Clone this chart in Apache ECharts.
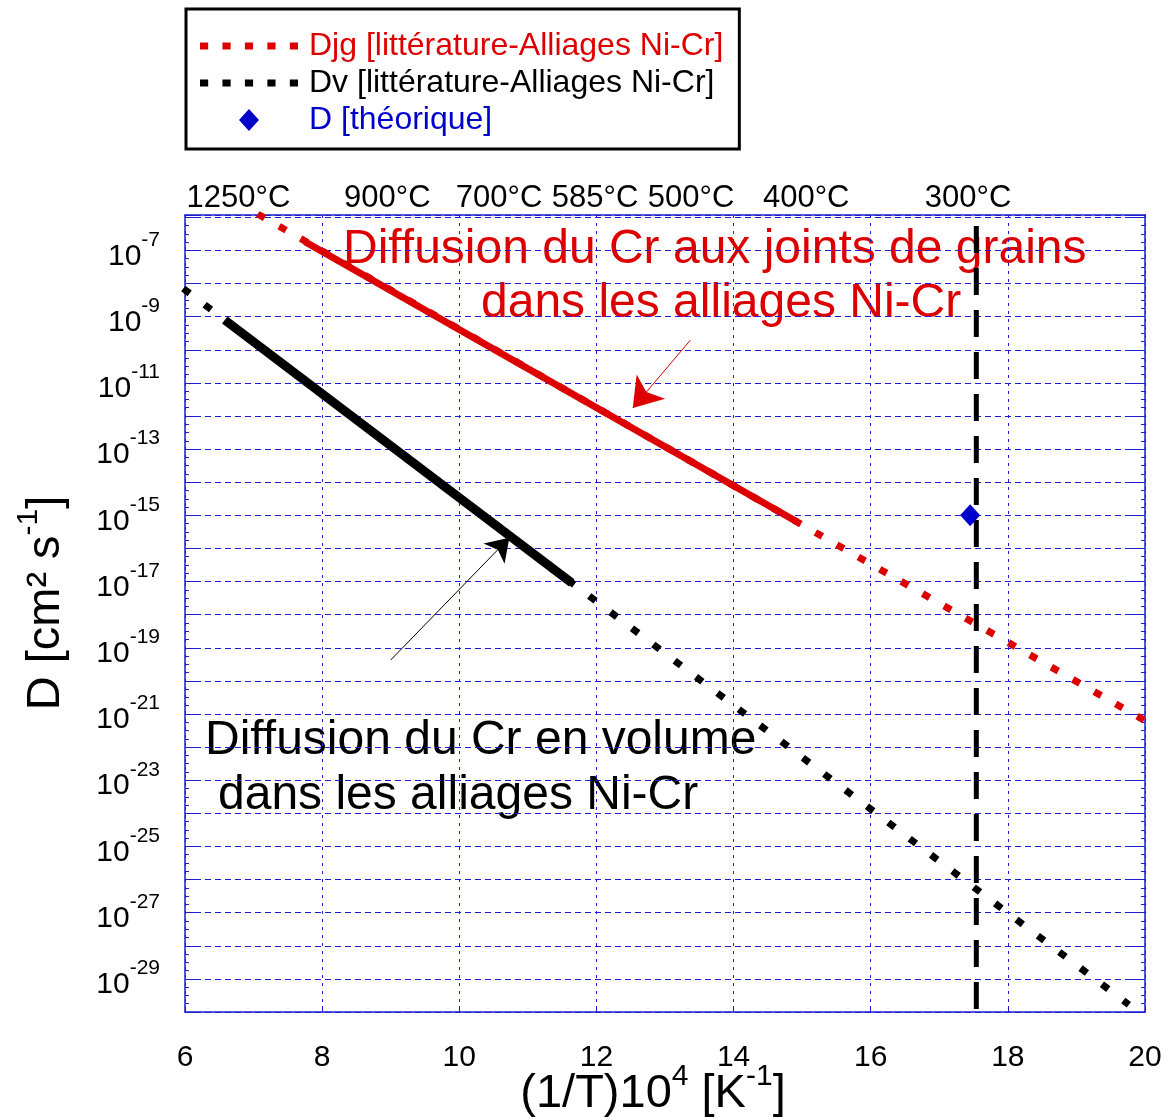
<!DOCTYPE html>
<html>
<head>
<meta charset="utf-8">
<script src="https://cdn.jsdelivr.net/npm/echarts@6/dist/echarts.min.js"></script>
<style>
  html, body { margin: 0; padding: 0; background: #fff; }
  #main { width: 1173px; height: 1117px; }
</style>
</head>
<body>
<div id="main"></div>
<script>
// x : (1/T)10^4 [K-1]   y : log10(D) , D en cm2 s-1
var djgDotX = [7.06, 20.0];          // Djg, trait pointille
var djgDotLogD = [-5.90, -21.2];
var djgDenseX = [7.75, 14.93];       // Djg, partie dense (points serres)
var djgDenseLogD = [-6.74, -15.2];
var dvDotX = [5.975, 19.765];        // Dv, trait pointille
var dvDotLogD = [-8.15, -29.78];
var dvDenseX = [6.58, 11.64];        // Dv, partie dense
var dvDenseLogD = [-9.1, -17.04];
var theoX = [17.45];                 // D theorique
var theoLogD = [-15];
var limitX = [17.54, 17.54];         // trait vertical a 300°C
var limitLogD = [-6.26, -30];
var arrowJgX = [13.37, 12.53];       // fleche rouge (depart, pointe)
var arrowJgLogD = [-9.71, -11.76];
var arrowVX = [9.0, 10.73];          // fleche noire
var arrowVLogD = [-19.37, -15.68];
var tempLabels = ['1250°C', '900°C', '700°C', '585°C', '500°C', '400°C', '300°C'];
var tempLabelX = [6.78, 8.95, 10.58, 11.98, 13.38, 15.06, 17.42];

var FONT = '"Liberation Sans", Arial, sans-serif';
var RED = '#dd0000';
var BLUE = '#1c1cd0';
var NAME_JG = 'Djg [littérature-Alliages Ni-Cr]';
var NAME_V = 'Dv [littérature-Alliages Ni-Cr]';
var NAME_TH = 'D [théorique]';
// icones de legende : pointilles et losange
var ICON_DOTS = 'path://M0,0h8v7h-8zM22,0h8v7h-8zM44,0h8v7h-8zM66,0h8v7h-8zM88,0h8v7h-8z';
var ICON_DIAMOND = 'path://M10,0L20,11L10,22L0,11Z';

function zip(xs, ys) {
  return xs.map(function (x, i) { return [x, ys[i]]; });
}

var chart = echarts.init(document.getElementById('main'), null, { renderer: 'canvas' });

var yLabel = {
  margin: 25,
  color: '#000',
  formatter: function (v) {
    var n = Math.round(v);
    if (Math.abs(v - n) > 1e-6 || n % 2 === 0) return '';
    return '{b|10}{s|' + n + '}';
  },
  rich: {
    b: { fontSize: 30, lineHeight: 42, verticalAlign: 'bottom', fontFamily: FONT, color: '#000' },
    s: { fontSize: 21, lineHeight: 38, verticalAlign: 'top', fontFamily: FONT, color: '#000' }
  }
};

var option = {
  animation: false,
  backgroundColor: '#fff',
  textStyle: { fontFamily: FONT },
  grid: { left: 185, right: 28, top: 215, bottom: 105 },
  legend: {
    left: 186, top: 9,
    orient: 'vertical',
    selectedMode: false,
    symbolKeepAspect: true,
    padding: [21, 16, 13, 14],
    borderColor: '#000',
    borderWidth: 3,
    itemWidth: 98,
    itemHeight: 22,
    itemGap: 5,
    textStyle: { fontSize: 32, fontFamily: FONT, padding: [0, 0, 0, 6] },
    data: [
      { name: NAME_JG, icon: ICON_DOTS, textStyle: { color: RED } },
      { name: NAME_V, icon: ICON_DOTS, textStyle: { color: '#000' } },
      { name: NAME_TH, icon: ICON_DIAMOND, textStyle: { color: '#0000cc' } }
    ]
  },
  xAxis: [{
    type: 'value', min: 6, max: 20, interval: 2, position: 'bottom',
    axisLine: { onZero: false, lineStyle: { color: BLUE, width: 1.5 } },
    axisTick: { inside: true, length: 6, lineStyle: { color: BLUE } },
    axisLabel: { fontSize: 30, color: '#000', margin: 31, fontFamily: FONT },
    splitLine: { lineStyle: { color: BLUE, type: [3, 5] } }
  }, {
    type: 'value', min: 6, max: 20, position: 'top',
    axisLine: { onZero: false, lineStyle: { color: BLUE, width: 1.5 } },
    axisTick: { show: false },
    splitLine: { show: false },
    axisLabel: {
      customValues: tempLabelX,
      fontSize: 31, color: '#000', margin: 1, fontFamily: FONT,
      formatter: function (v) {
        var best = 0;
        tempLabelX.forEach(function (t, i) {
          if (Math.abs(t - v) < Math.abs(tempLabelX[best] - v)) best = i;
        });
        return tempLabels[best];
      }
    }
  }],
  yAxis: [{
    type: 'value', min: -30, max: -5.93, interval: 1, position: 'left',
    axisLine: { show: true, onZero: false, lineStyle: { color: BLUE, width: 1.5 } },
    axisTick: { inside: true, length: 10, lineStyle: { color: BLUE } },
    minorTick: { show: true, splitNumber: 4, length: 4, lineStyle: { color: BLUE } },
    axisLabel: yLabel,
    splitLine: { lineStyle: { color: BLUE, type: [6, 4] } }
  }, {
    type: 'value', min: -30, max: -5.93, interval: 1, position: 'right',
    axisLine: { show: true, onZero: false, lineStyle: { color: BLUE, width: 1.5 } },
    axisTick: { inside: true, length: 16, lineStyle: { color: BLUE } },
    minorTick: { show: true, splitNumber: 4, length: 4, lineStyle: { color: BLUE } },
    axisLabel: { show: false },
    splitLine: { show: false }
  }],
  graphic: [
    {
      type: 'text', x: 343, y: 250, z: -1,
      style: { text: 'Diffusion du Cr aux joints de grains', fill: RED, fontSize: 48, fontFamily: FONT,
        textAlign: 'left', textVerticalAlign: 'middle', align: 'left', verticalAlign: 'middle' }
    },
    {
      type: 'text', x: 481, y: 304, z: -1,
      style: { text: 'dans les alliages Ni-Cr', fill: RED, fontSize: 48, fontFamily: FONT,
        textAlign: 'left', textVerticalAlign: 'middle', align: 'left', verticalAlign: 'middle' }
    },
    {
      type: 'text', x: 205, y: 741, z: -1,
      style: { text: 'Diffusion du Cr en volume', fill: '#000', fontSize: 48, fontFamily: FONT,
        textAlign: 'left', textVerticalAlign: 'middle', align: 'left', verticalAlign: 'middle' }
    },
    {
      type: 'text', x: 218, y: 796, z: -1,
      style: { text: 'dans les alliages Ni-Cr', fill: '#000', fontSize: 48, fontFamily: FONT,
        textAlign: 'left', textVerticalAlign: 'middle', align: 'left', verticalAlign: 'middle' }
    },
    {
      type: 'text', x: 653, y: 1090,
      style: {
        text: '{a|(1/T)10}{s|4}{a| [K}{s|-1}{a|]}',
        textAlign: 'center', textVerticalAlign: 'middle', align: 'center', verticalAlign: 'middle',
        rich: {
          a: { fontSize: 47, lineHeight: 56, verticalAlign: 'bottom', fontFamily: FONT, fill: '#000' },
          s: { fontSize: 30, lineHeight: 30, verticalAlign: 'top', fontFamily: FONT, fill: '#000' }
        }
      }
    },
    {
      type: 'text', x: 42, y: 603, rotation: Math.PI / 2,
      style: {
        text: '{a|D [cm² s}{s|-1}{a|]}',
        textAlign: 'center', textVerticalAlign: 'middle', align: 'center', verticalAlign: 'middle',
        rich: {
          a: { fontSize: 47, lineHeight: 56, verticalAlign: 'bottom', fontFamily: FONT, fill: '#000' },
          s: { fontSize: 30, lineHeight: 30, verticalAlign: 'top', fontFamily: FONT, fill: '#000' }
        }
      }
    }
  ],
  series: [
    {
      name: NAME_JG, type: 'line', symbol: 'none', silent: true,
      data: zip(djgDotX, djgDotLogD),
      itemStyle: { color: RED },
      lineStyle: { color: RED, width: 7, type: [8, 16.7], cap: 'butt' }
    },
    {
      name: 'Djg dense', type: 'line', symbol: 'none', silent: true,
      data: zip(djgDenseX, djgDenseLogD),
      lineStyle: { color: RED, width: 7 },
      markLine: {
        silent: true, animation: false,
        symbol: ['none', 'arrow'], symbolSize: 28,
        label: { show: false },
        lineStyle: { color: RED, width: 1, type: 'solid' },
        data: [[{ coord: [arrowJgX[0], arrowJgLogD[0]] }, { coord: [arrowJgX[1], arrowJgLogD[1]] }]]
      }
    },
    {
      name: NAME_V, type: 'line', symbol: 'none', silent: true,
      data: zip(dvDotX, dvDotLogD),
      itemStyle: { color: '#000' },
      lineStyle: { color: '#000', width: 7, type: [8, 18.8], cap: 'butt' }
    },
    {
      name: 'Dv dense', type: 'line', symbol: 'none', silent: true,
      data: zip(dvDenseX, dvDenseLogD),
      lineStyle: { color: '#000', width: 9 },
      markLine: {
        silent: true, animation: false,
        symbol: ['none', 'arrow'], symbolSize: 22,
        label: { show: false },
        lineStyle: { color: '#000', width: 1, type: 'solid' },
        data: [[{ coord: [arrowVX[0], arrowVLogD[0]] }, { coord: [arrowVX[1], arrowVLogD[1]] }]]
      }
    },
    {
      name: '300°C', type: 'line', symbol: 'none', silent: true,
      data: zip(limitX, limitLogD),
      lineStyle: { color: '#000', width: 5, type: [27, 15], cap: 'butt' }
    },
    {
      name: NAME_TH, type: 'scatter', symbol: 'diamond', symbolSize: [20, 22], silent: true,
      data: zip(theoX, theoLogD),
      itemStyle: { color: '#0000cc', opacity: 1 },
      z: 5
    }
  ]
};

chart.setOption(option);
</script>
</body>
</html>
